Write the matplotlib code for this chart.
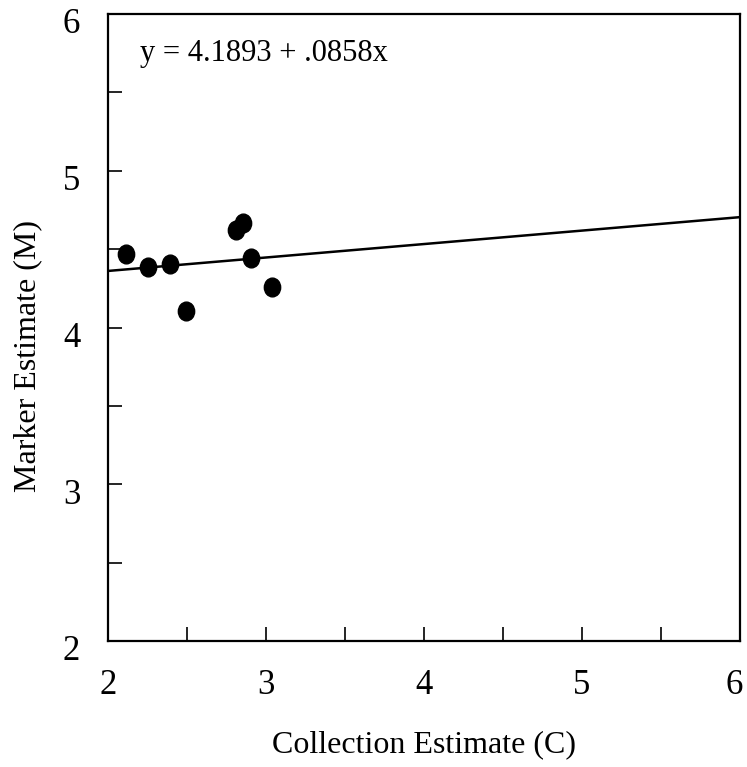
import matplotlib
matplotlib.use("Agg")
import matplotlib.pyplot as plt
import matplotlib.transforms as mtransforms
import numpy as np
from matplotlib.path import Path
from matplotlib.ticker import MultipleLocator

# data
collection = [2.114, 2.255, 2.394, 2.496, 2.810, 2.856, 2.905, 3.036]
marker_est = [4.469, 4.388, 4.407, 4.103, 4.622, 4.667, 4.441, 4.260]
intercept = 4.1893
slope = 0.0858
x_ticks = [2, 3, 4, 5, 6]
y_ticks = [2, 3, 4, 5, 6]

plt.rcParams["font.family"] = ["Liberation Serif", "DejaVu Serif"]

# slightly tall ellipse marker
circ = Path.unit_circle()
oval = Path(circ.vertices * np.array([0.87, 1.0]), circ.codes)

fig = plt.figure(figsize=(7.47, 7.67), dpi=100)
ax = fig.add_axes([0.1446, 0.1643, 0.8460, 0.8174])

ax.plot(collection, marker_est, linestyle="none", marker=oval,
        markersize=13.5, color="black")

line_x = np.array([2, 6])
ax.plot(line_x, intercept + slope * line_x, color="black", linewidth=1.8)

ax.text(2.2, 5.75, "y = 4.1893 + .0858x", fontsize=22, ha="left", va="center")

ax.set_xlim(2, 6)
ax.set_ylim(2, 6)
ax.set_xticks(x_ticks)
ax.set_yticks(y_ticks)
ax.xaxis.set_minor_locator(MultipleLocator(0.5))
ax.yaxis.set_minor_locator(MultipleLocator(0.5))
ax.tick_params(which="both", direction="in", length=10, width=1.2,
               top=False, right=False)
ax.tick_params(axis="x", which="major", labelsize=25, pad=20)
ax.tick_params(axis="y", which="major", labelsize=25, pad=20)
for s in ax.spines.values():
    s.set_linewidth(1.6)

# y tick labels sit a little below their ticks in the reference
shift = mtransforms.ScaledTranslation(0, -5 / 72, fig.dpi_scale_trans)
for lab in ax.get_yticklabels():
    lab.set_transform(lab.get_transform() + shift)
# keep the last x label inside the canvas
edge = mtransforms.ScaledTranslation(-4 / 72, 0, fig.dpi_scale_trans)
last = ax.get_xticklabels()[-1]
last.set_transform(last.get_transform() + edge)

ax.set_xlabel("Collection Estimate (C)", fontsize=23, va="center")
ax.set_ylabel("Marker Estimate (M)", fontsize=23, va="center")
ax.xaxis.set_label_coords(0.5, -0.166)
ax.yaxis.set_label_coords(-0.127, 0.455)

fig.savefig("out.png", dpi=100)
